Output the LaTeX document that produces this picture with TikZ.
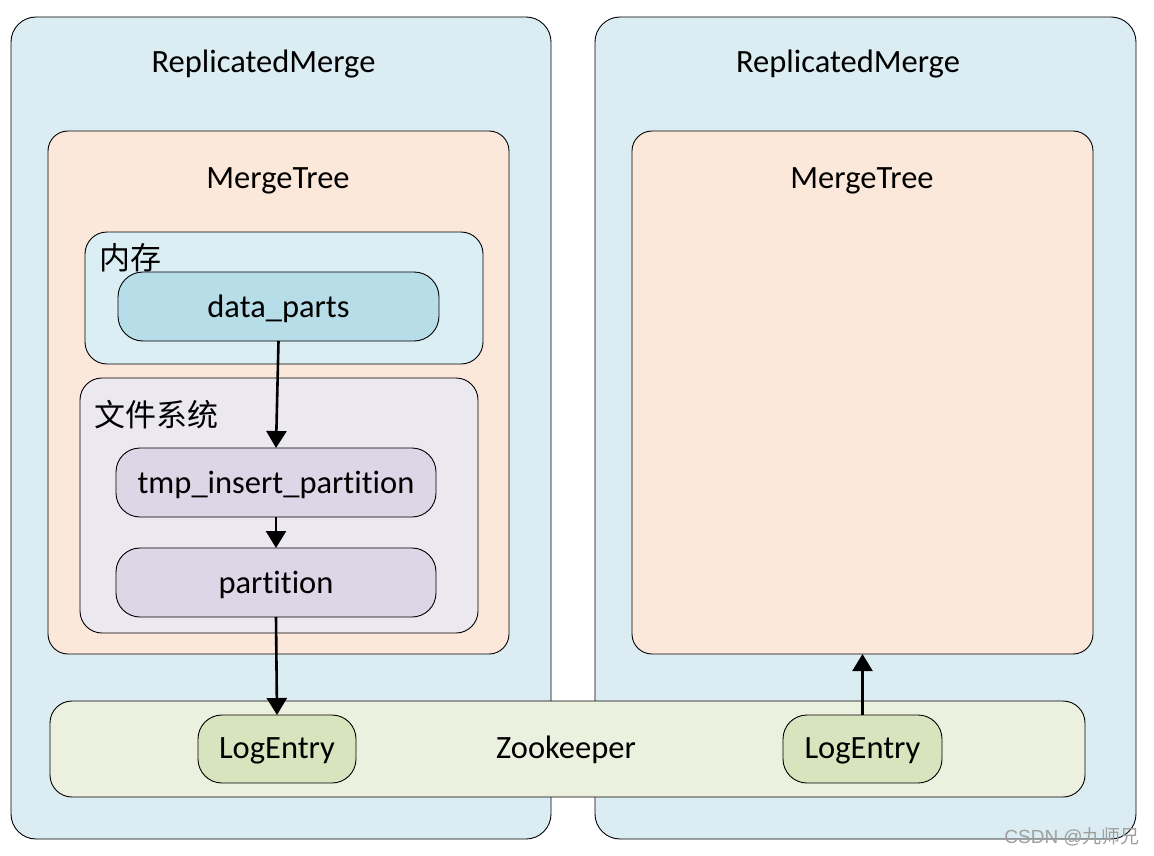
\documentclass[tikz,border=0pt]{standalone}
\usepackage{fontspec}
\setmainfont{Carlito}[Ligatures=NoCommon]
\newfontfamily\cjk{Noto Sans CJK SC}
\newfontfamily\wmfont{Liberation Sans}
\usetikzlibrary{arrows.meta}
\definecolor{outerblue}{HTML}{DBEDF3}
\definecolor{peach}{HTML}{FCE8DA}
\definecolor{memblue}{HTML}{DBEEF3}
\definecolor{dpblue}{HTML}{B7DEE8}
\definecolor{fslav}{HTML}{EBE8F0}
\definecolor{lav}{HTML}{DCD6E6}
\definecolor{zkgreen}{HTML}{EBF1DE}
\definecolor{legreen}{HTML}{D7E4BD}
\tikzset{
  box/.style={draw=black, line width=0.9pt, inner sep=0pt, outer sep=0pt},
  lbl/.style={inner sep=0pt, font=\fontsize{32.5}{38}\selectfont},
  cjklbl/.style={inner sep=0pt, font=\cjk\fontsize{31}{36}\selectfont},
  arr/.style={line width=2.6pt, -{Triangle[length=17pt,width=20pt]}}
}
\begin{document}
\begin{tikzpicture}[x=1pt,y=-1pt]
\useasboundingbox[fill=white] (0,0) rectangle (1154,856);
% outer containers
\node[box, fill=outerblue, rounded corners=25pt, minimum width=540pt, minimum height=822pt] (rm1) at (281,428) {};
\node[box, fill=outerblue, rounded corners=25pt, minimum width=541pt, minimum height=822pt] (rm2) at (865.5,428) {};
\node[lbl] (rm1t) at (263.5,64.5) {ReplicatedMerge};
\node[lbl] (rm2t) at (848,64.5) {ReplicatedMerge};
% MergeTree
\node[box, fill=peach, rounded corners=20pt, minimum width=461pt, minimum height=523pt] (mt1) at (278.5,392.5) {};
\node[box, fill=peach, rounded corners=20pt, minimum width=461pt, minimum height=523pt] (mt2) at (862.5,392.5) {};
\node[lbl] (mt1t) at (278,180.5) {MergeTree};
\node[lbl] (mt2t) at (862,180.5) {MergeTree};
% memory
\node[box, fill=memblue, rounded corners=22pt, minimum width=398pt, minimum height=132pt] (mem) at (284,298) {};
\node[cjklbl, anchor=west] (memt) at (99,258) {内存};
\node[box, fill=dpblue, rounded corners=25pt, minimum width=321pt, minimum height=69pt] (dp) at (278.5,306.5) {};
\node[lbl] (dpt) at ([yshift=-2pt]dp.center) {data\_parts};
% file system
\node[box, fill=fslav, rounded corners=22pt, minimum width=398pt, minimum height=255pt] (fs) at (279,505.5) {};
\node[cjklbl, anchor=west] (fst) at (94,415) {文件系统};
\node[box, fill=lav, rounded corners=24pt, minimum width=320pt, minimum height=69pt] (tmp) at (276,482.5) {};
\node[lbl] (tmpt) at ([yshift=-2pt]tmp.center) {tmp\_insert\_partition};
\node[box, fill=lav, rounded corners=24pt, minimum width=320pt, minimum height=69pt] (part) at (276,582.5) {};
\node[lbl] (partt) at ([yshift=-2pt]part.center) {partition};
% zookeeper
\node[box, fill=zkgreen, rounded corners=22pt, minimum width=1035pt, minimum height=96pt] (zk) at (567.5,749) {};
\node[lbl] (zkt) at (566,750) {Zookeeper};
\node[box, fill=legreen, rounded corners=24pt, minimum width=158pt, minimum height=68pt] (le1) at (277,749) {};
\node[lbl] (le1t) at ([yshift=-2pt]le1.center) {LogEntry};
\node[box, fill=legreen, rounded corners=24pt, minimum width=159pt, minimum height=68pt] (le2) at (862.5,749) {};
\node[lbl] (le2t) at ([yshift=-2pt]le2.center) {LogEntry};
% arrows
\draw[arr] (dp.south) -- (tmp.north);
\draw[arr] (tmp.south) -- (part.north);
\draw[arr] (part.south) -- (le1.north);
\draw[arr] (le2.north) -- (mt2.south);
% watermark
\node[inner sep=0pt, text=gray!75, font=\wmfont\fontsize{19}{22}\selectfont, anchor=east] (wm) at (1140,837) {CSDN @{\cjk 九师兄}};
\end{tikzpicture}
\end{document}
